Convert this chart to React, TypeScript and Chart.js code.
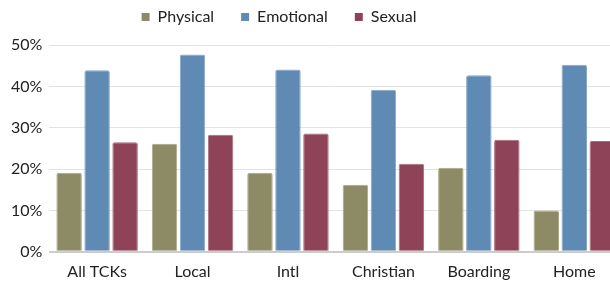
import React, { useEffect, useRef } from "react";
import { Chart, registerables } from "chart.js";

Chart.register(...registerables);

const categories = ["All TCKs", "Local", "Intl", "Christian", "Boarding", "Home"];
const physical = [19.1, 26.1, 19.1, 16.2, 20.3, 10.0];
const emotional = [43.9, 47.7, 44.1, 39.2, 42.7, 45.2];
const sexual = [26.5, 28.3, 28.6, 21.3, 27.1, 26.8];
const seriesNames = ["Physical", "Emotional", "Sexual"];
const yTicks = [0, 10, 20, 30, 40, 50];

export default function App() {
  const ref = useRef<HTMLCanvasElement | null>(null);

  useEffect(() => {
    if (!ref.current) return;
    const colors = ["#8d8b65", "#5e8ab4", "#8f4358"];
    const borders = ["#a9a788", "#86a8c8", "#a86a7b"];
    const values = [physical, emotional, sexual];
    const chart = new Chart(ref.current, {
      type: "bar",
      data: {
        labels: categories,
        datasets: seriesNames.map((name, i) => ({
          label: name,
          data: values[i],
          backgroundColor: colors[i],
          borderColor: borders[i],
          borderWidth: 1,
          borderRadius: 2,
          borderSkipped: "bottom",
          categoryPercentage: 0.88,
          barPercentage: 0.91,
        })),
      },
      options: {
        animation: false,
        responsive: true,
        maintainAspectRatio: false,
        layout: { padding: { left: 4, right: 0, top: -8, bottom: 1 } },
        plugins: {
          tooltip: { enabled: false },
          legend: {
            position: "top",
            align: "center",
            labels: {
              boxWidth: 8,
              boxHeight: 8,
              padding: 27,
              color: "#222",
              font: { family: "Lato", size: 16 },
              generateLabels: (c) =>
                c.data.datasets.map((d, i) => ({
                  text: d.label as string,
                  fillStyle: colors[i],
                  strokeStyle: colors[i],
                  lineWidth: 0,
                  datasetIndex: i,
                  hidden: false,
                  fontColor: "#222",
                })),
            },
          },
        },
        scales: {
          x: {
            grid: { display: false },
            border: { display: false },
            ticks: {
              color: "#222",
              font: { family: "Lato", size: 16 },
              padding: 2,
              maxRotation: 0,
              autoSkip: false,
            },
          },
          y: {
            min: 0,
            max: 50,
            afterBuildTicks: (axis) => {
              axis.ticks = yTicks.map((v) => ({ value: v }));
            },
            border: { display: false },
            grid: {
              drawTicks: false,
              color: (ctx) => (ctx.tick && ctx.tick.value === 0 ? "#cccccc" : "#e3e3e3"),
              lineWidth: (ctx) => (ctx.tick && ctx.tick.value === 0 ? 2 : 1),
            },
            ticks: {
              color: "#222",
              font: { family: "Lato", size: 16 },
              padding: 7,
              callback: (v) => v + "%",
            },
          },
        },
      },
      plugins: [
        {
          id: "legendShift",
          afterLayout: (c: any) => {
            const lg = c.legend;
            if (!lg) return;
            const w = c.width;
            const dx = -37 - (w - 628) / 2;
            const h = lg.height;
            lg.left += dx;
            lg.right += dx;
            lg.top = -18;
            lg.bottom = lg.top + h;
          },
        },
      ],
    });
    return () => chart.destroy();
  }, []);

  return (
    <div
      style={{
        position: "fixed",
        left: 0,
        top: 0,
        width: 610,
        height: 284,
        overflow: "hidden",
        background: "#fff",
      }}
    >
      <div style={{ position: "absolute", left: 0, top: 0, width: 622, height: 284 }}>
        <canvas ref={ref} />
      </div>
    </div>
  );
}
